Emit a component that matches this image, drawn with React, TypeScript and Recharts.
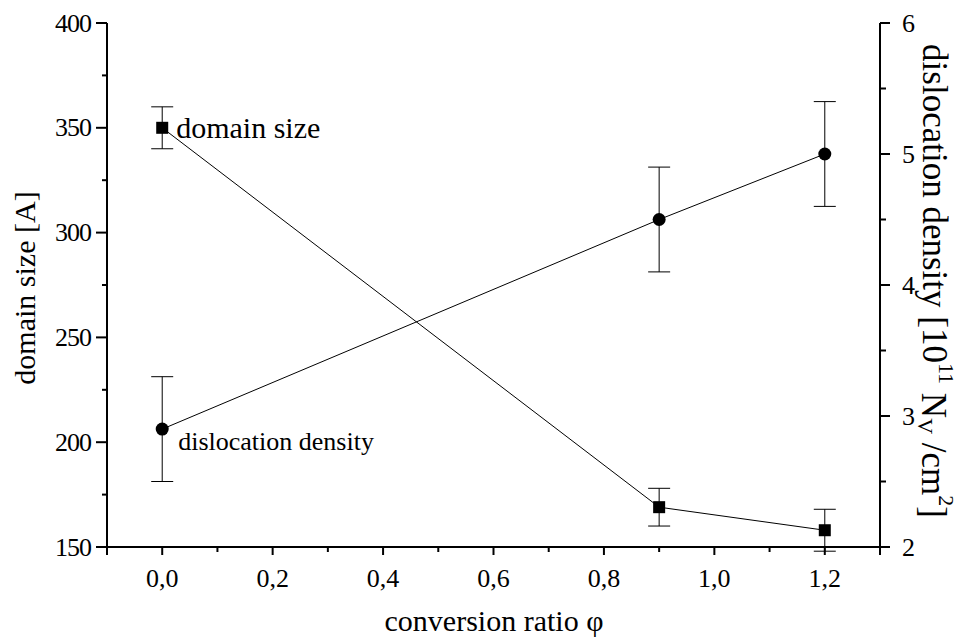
import React from "react"
import {
    ComposedChart,
    Line,
    XAxis,
    YAxis,
    ErrorBar,
    LabelList,
} from "recharts"

// conversion ratio (x)
const phi = [0, 0.9, 1.2]
// domain size [A], left axis
const domainSize = [350, 169, 158]
const domainSizeErr = [10, 9, 10]
// dislocation density [10^11 N_V / cm^2], right axis
const dislocationDensity = [2.9, 4.5, 5.0]
const dislocationDensityErr = [0.4, 0.4, 0.4]

const xTicks = [-0.1, 0, 0.1, 0.2, 0.3, 0.4, 0.5, 0.6, 0.7, 0.8, 0.9, 1.0, 1.1, 1.2, 1.3]
const leftTicks = [150, 175, 200, 225, 250, 275, 300, 325, 350, 375, 400]
const rightTicks = [2, 2.5, 3, 3.5, 4, 4.5, 5, 5.5, 6]

const data = phi.map((p, i) => ({
    phi: p,
    size: domainSize[i],
    sizeErr: domainSizeErr[i],
    density: dislocationDensity[i],
    densityErr: dislocationDensityErr[i],
}))

const FONT = "\"Liberation Serif\", \"DejaVu Serif\", serif"
const txt = (size: number) => ({ fontFamily: FONT, fontSize: size, fill: "#000" })

const isMajorX = (v: number) => Math.round(v * 10) % 2 === 0
const isEdgeX = (v: number) => v < -0.05 || v > 1.25

function BottomTick(props: any) {
    const { x, y, payload } = props
    const v = payload.value
    const major = isMajorX(v) || isEdgeX(v)
    return (
        <g>
            <line x1={x} x2={x} y1={y} y2={y + (major ? 8 : 5)} stroke="#000" strokeWidth={2} />
            {isMajorX(v) && !isEdgeX(v) && (
                <text x={x} y={y + 31} textAnchor="middle" dominantBaseline="central" style={txt(26)}>
                    {v.toFixed(1).replace(".", ",")}
                </text>
            )}
        </g>
    )
}

function TopTick(props: any) {
    const { x, y, payload } = props
    const v = payload.value
    if (isEdgeX(v)) return <g />
    const len = isMajorX(v) ? 12 : 7
    return <line x1={x} x2={x} y1={y} y2={y + len} stroke="#000" strokeWidth={2} />
}

function LeftTick(props: any) {
    const { x, y, payload } = props
    const v = payload.value
    const major = v % 50 === 0
    return (
        <g>
            <line x1={x - (major ? 11 : 5)} x2={x} y1={y} y2={y} stroke="#000" strokeWidth={2} />
            {major && (
                <text x={x - 16} y={y} textAnchor="end" dominantBaseline="central" style={{ ...txt(26), letterSpacing: -1 }}>
                    {v}
                </text>
            )}
        </g>
    )
}

function RightTick(props: any) {
    const { x, y, payload } = props
    const v = payload.value
    const major = Number.isInteger(v)
    return (
        <g>
            <line x1={x} x2={x + (major ? 10 : 6)} y1={y} y2={y} stroke="#000" strokeWidth={2} />
            {major && (
                <text x={x + 22} y={y} textAnchor="start" dominantBaseline="central" style={txt(26)}>
                    {v}
                </text>
            )}
        </g>
    )
}

const SquareDot = (props: any) => {
    const { cx, cy } = props
    return <rect x={cx - 6} y={cy - 6} width={12} height={12} fill="#000" />
}

const CircleDot = (props: any) => {
    const { cx, cy } = props
    return <ellipse cx={cx} cy={cy} rx={6.5} ry={6.5} fill="#000" />
}

const sizeNote = (props: any) => {
    const { x, y, index } = props
    if (index !== 0) return null
    return (
        <text x={x + 14} y={y} dominantBaseline="central" style={txt(30)}>
            domain size
        </text>
    )
}

const densityNote = (props: any) => {
    const { x, y, index } = props
    if (index !== 0) return null
    return (
        <text x={x + 16} y={y + 12} dominantBaseline="central" style={txt(26)}>
            dislocation density
        </text>
    )
}

const leftTitle = () => (
    <text x={24} y={288} transform="rotate(-90 24 288)" textAnchor="middle" dominantBaseline="central" style={txt(30)}>
        domain size [A]
    </text>
)

const bottomTitle = () => (
    <text x={494} y={620} textAnchor="middle" dominantBaseline="central" style={txt(30)}>
        conversion ratio φ
    </text>
)

const rightTitle = () => (
    <text x={934} y={281} transform="rotate(90 934 281)" textAnchor="middle" dominantBaseline="central" style={txt(35)}>
        dislocation density [10
        <tspan fontSize={22} dy={-13}>11</tspan>
        <tspan dy={13}> N</tspan>
        <tspan fontSize={22} dy={8}>V</tspan>
        <tspan dy={-8}> /cm</tspan>
        <tspan fontSize={22} dy={-13}>2</tspan>
        <tspan dy={13}>]</tspan>
    </text>
)

export default function App() {
    return (
        <div style={{ position: "absolute", left: 0, top: 0, width: 960, height: 644, background: "#fff" }}>
            <ComposedChart width={960} height={644} data={data} margin={{ top: 23, right: 0, bottom: 0, left: 0 }}>
                <XAxis
                    xAxisId="bottom"
                    type="number"
                    dataKey="phi"
                    domain={[-0.1, 1.3]}
                    allowDataOverflow
                    ticks={xTicks}
                    interval={0}
                    height={97}
                    axisLine={{ stroke: "#000", strokeWidth: 2 }}
                    tickLine={false}
                    tickSize={0}
                    tickMargin={0}
                    tick={BottomTick}
                    label={bottomTitle}
                />
                <XAxis
                    xAxisId="top"
                    orientation="top"
                    type="number"
                    dataKey="phi"
                    domain={[-0.1, 1.3]}
                    allowDataOverflow
                    ticks={xTicks}
                    interval={0}
                    height={0}
                    axisLine={{ stroke: "#000", strokeWidth: 2 }}
                    tickLine={false}
                    tickSize={0}
                    tickMargin={0}
                    tick={TopTick}
                />
                <YAxis
                    yAxisId="left"
                    orientation="left"
                    type="number"
                    domain={[150, 400]}
                    allowDataOverflow
                    ticks={leftTicks}
                    interval={0}
                    width={107}
                    axisLine={{ stroke: "#000", strokeWidth: 2 }}
                    tickLine={false}
                    tickSize={0}
                    tickMargin={0}
                    tick={LeftTick}
                    label={leftTitle}
                />
                <YAxis
                    yAxisId="right"
                    orientation="right"
                    type="number"
                    domain={[2, 6]}
                    allowDataOverflow
                    ticks={rightTicks}
                    interval={0}
                    width={80}
                    axisLine={{ stroke: "#000", strokeWidth: 2 }}
                    tickLine={false}
                    tickSize={0}
                    tickMargin={0}
                    tick={RightTick}
                    label={rightTitle}
                />
                <Line
                    xAxisId="bottom"
                    yAxisId="left"
                    dataKey="size"
                    stroke="#000"
                    strokeWidth={1}
                    dot={SquareDot}
                    activeDot={false}
                    isAnimationActive={false}
                >
                    <ErrorBar dataKey="sizeErr" direction="y" width={11} stroke="#000" strokeWidth={1} isAnimationActive={false} />
                    <LabelList dataKey="size" content={sizeNote} />
                </Line>
                <Line
                    xAxisId="bottom"
                    yAxisId="right"
                    dataKey="density"
                    stroke="#000"
                    strokeWidth={1}
                    dot={CircleDot}
                    activeDot={false}
                    isAnimationActive={false}
                >
                    <ErrorBar dataKey="densityErr" direction="y" width={11} stroke="#000" strokeWidth={1} isAnimationActive={false} />
                    <LabelList dataKey="density" content={densityNote} />
                </Line>
            </ComposedChart>
        </div>
    )
}
